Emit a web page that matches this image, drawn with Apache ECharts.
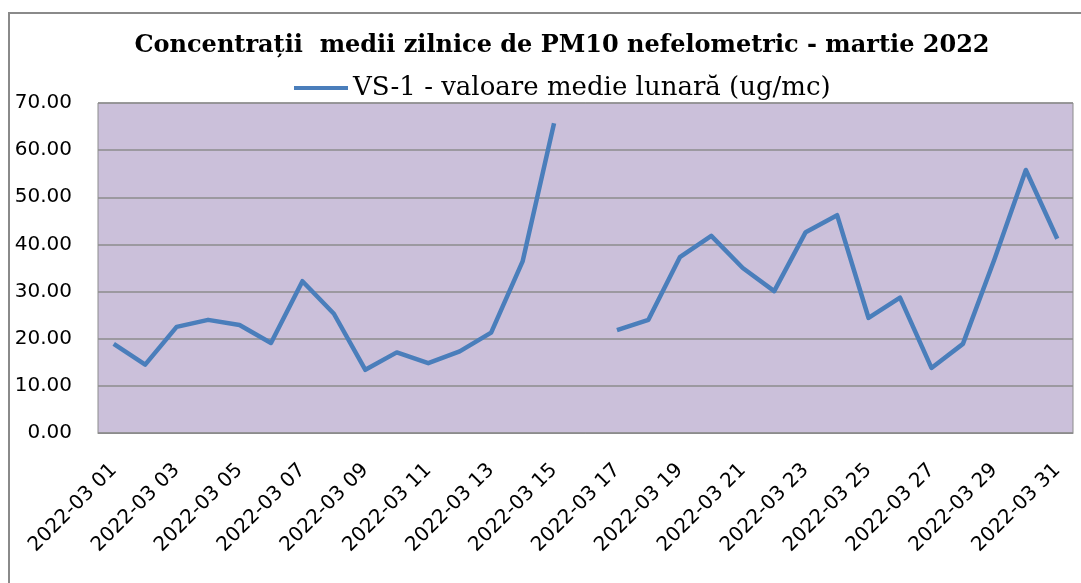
<!DOCTYPE html>
<html>
<head>
<meta charset="utf-8">
<script src="https://cdn.jsdelivr.net/npm/echarts@6/dist/echarts.min.js"></script>
<style>
  html, body { margin: 0; padding: 0; background: #fff; }
  #chart { width: 1081px; height: 583px; }
</style>
</head>
<body>
<div id="chart"></div>
<script>
  // zile martie 2022
  var categories = [
    '2022-03 01', '2022-03 02', '2022-03 03', '2022-03 04', '2022-03 05', '2022-03 06',
    '2022-03 07', '2022-03 08', '2022-03 09', '2022-03 10', '2022-03 11', '2022-03 12',
    '2022-03 13', '2022-03 14', '2022-03 15', '2022-03 16', '2022-03 17', '2022-03 18',
    '2022-03 19', '2022-03 20', '2022-03 21', '2022-03 22', '2022-03 23', '2022-03 24',
    '2022-03 25', '2022-03 26', '2022-03 27', '2022-03 28', '2022-03 29', '2022-03 30',
    '2022-03 31'
  ]
  // VS-1 (ug/mc), 16 martie lipsa
  var vs1 = [
    18.9, 14.5, 22.5, 24.0, 22.9, 19.1, 32.2, 25.3, 13.4, 17.1, 14.8, 17.3,
    21.3, 36.4, 65.7, null, 21.8, 24.0, 37.3, 41.8, 35.0, 30.1, 42.6, 46.2,
    24.4, 28.7, 13.8, 18.9, 36.8, 55.8, 41.2
  ]
  var yTicks = [0, 70, 10] // min, max, interval

  var chart = echarts.init(document.getElementById('chart'))
  var option = {
    animation: false,
    title: {
      text: 'Concentrații  medii zilnice de PM10 nefelometric - martie 2022',
      left: 557,
      textAlign: 'center',
      top: 29,
      textStyle: {
        fontFamily: 'DejaVu Serif',
        fontWeight: 'bold',
        fontSize: 24,
        color: '#000'
      }
    },
    legend: {
      data: ['VS-1 - valoare medie lunară (ug/mc)'],
      top: 70,
      left: 289,
      icon: 'rect',
      itemWidth: 54,
      itemHeight: 4,
      itemGap: 4,
      textStyle: {
        fontFamily: 'DejaVu Serif',
        fontSize: 26,
        color: '#000'
      }
    },
    graphic: [{
      type: 'rect',
      shape: { x: 9, y: 13, width: 1100, height: 620 },
      style: { fill: 'none', stroke: '#8a8a8a', lineWidth: 2 },
      silent: true
    }],
    grid: {
      left: 98,
      right: 8,
      top: 103,
      bottom: 150,
      show: true,
      backgroundColor: '#CBC0DA',
      borderColor: '#8c8c8c',
      borderWidth: 1
    },
    xAxis: {
      type: 'category',
      data: categories,
      boundaryGap: true,
      axisLine: { show: true, lineStyle: { color: '#8c8c8c' } },
      axisTick: { show: false },
      axisLabel: {
        interval: 1,
        rotate: 45,
        margin: 34,
        fontFamily: 'DejaVu Sans',
        fontSize: 20,
        color: '#000'
      }
    },
    yAxis: {
      type: 'value',
      min: yTicks[0],
      max: yTicks[1],
      interval: yTicks[2],
      axisLine: { show: false },
      axisTick: { show: false },
      splitLine: { lineStyle: { color: '#8c8c8c', width: 1.5 } },
      axisLabel: {
        margin: 26,
        fontFamily: 'DejaVu Sans',
        fontSize: 20,
        color: '#000',
        formatter: function (v) { return v.toFixed(2) }
      }
    },
    series: [{
      name: 'VS-1 - valoare medie lunară (ug/mc)',
      type: 'line',
      data: vs1,
      connectNulls: false,
      symbol: 'none',
      lineStyle: { color: '#4A7EBB', width: 4.5, join: 'round' },
      itemStyle: { color: '#4A7EBB' }
    }]
  }
  chart.setOption(option)
</script>
</body>
</html>
